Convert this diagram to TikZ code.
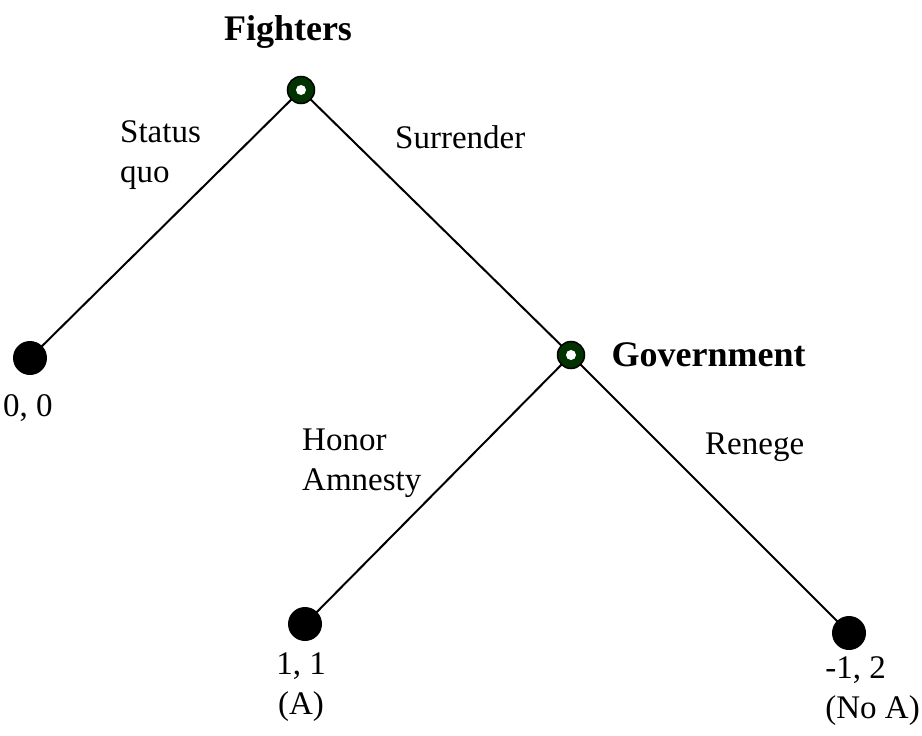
\documentclass[tikz,border=0pt]{standalone}
\usepackage{fontspec}
\setmainfont{Liberation Serif}
\usepackage{tikz}
\usetikzlibrary{positioning,calc}
\definecolor{movegreen}{RGB}{0,51,0}

\begin{document}
\begin{tikzpicture}[x=1pt, y=1pt,
    every node/.style={font=\fontsize{33}{40}\selectfont},
    decision/.style={circle, draw=black, fill=movegreen, line width=1.5pt, minimum size=27pt, inner sep=0pt,
        path picture={\fill[white] (path picture bounding box.center) circle (5pt);}},
    payoff/.style={circle, fill=black, minimum size=34pt, inner sep=0pt},
    player/.style={font=\fontsize{36}{40}\selectfont\bfseries},
    branch/.style={line width=2pt}]

    \useasboundingbox (0,0) rectangle (922,-736);

    % Nodes of the tree
    \node[payoff] (sq) at (30,-358) {};
    \node[payoff] (ha) at (305,-624) {};
    \node[payoff] (rn) at (849,-633) {};

    % Branches
    \draw[branch] (301,-90) -- (sq.center);
    \draw[branch] (301,-90) -- (571,-355);
    \draw[branch] (571,-355) -- (ha.center);
    \draw[branch] (571,-355) -- (rn.center);

    % Players
    \node[decision] (f) at (301,-90) {};
    \node[decision] (g) at (571,-355) {};
    \node[player] at (288,-32) {Fighters};
    \node[player, anchor=west] at (608,-355) {Government};

    % Actions
    \node[align=left, anchor=north west, inner sep=0pt] at (120,-120) {Status\\quo};
    \node[anchor=west, inner sep=0pt] at (395,-137) {Surrender};
    \node[align=left, anchor=north west, inner sep=0pt] at (302,-429) {Honor\\Amnesty};
    \node[anchor=west, inner sep=0pt] at (705,-447) {Renege};

    % Payoffs
    \node[anchor=west, inner sep=0pt] at (3,-408) {0, 0};
    \node[align=center, anchor=north, inner sep=0pt] at (301,-653) {1, 1\\(A)};
    \node[align=left, anchor=north east, inner sep=0pt] at (920,-656) {-1, 2\\(No A)};
\end{tikzpicture}
\end{document}
